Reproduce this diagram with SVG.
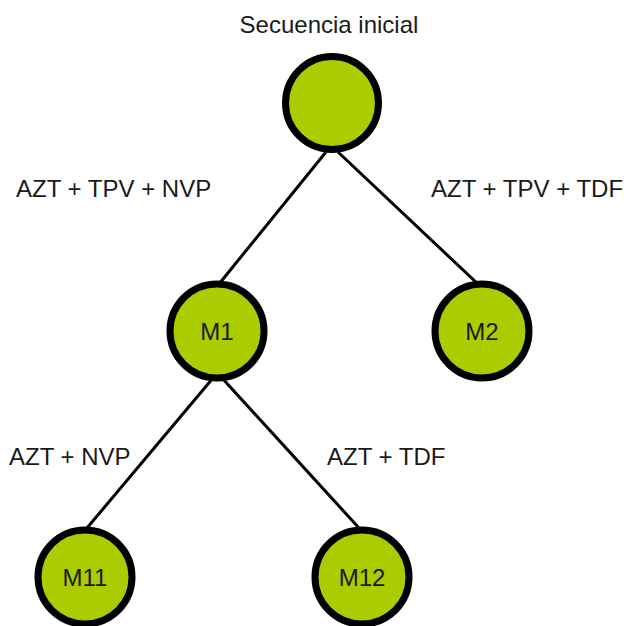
<svg xmlns="http://www.w3.org/2000/svg" width="624" height="626" viewBox="0 0 624 626">
<style>
.n{fill:#aacc00;stroke:#000;stroke-width:7}
.t{font-family:"Liberation Sans",Arial,sans-serif;font-size:24px;fill:#1a1a1a}
.c{text-anchor:middle}
.e{stroke:#000;stroke-width:3;fill:none}
</style>
<rect width="624" height="626" fill="#fff"/>
<g id="connectors">
<line class="e" x1="326" y1="152" x2="219" y2="284"/>
<line class="e" x1="338" y1="152" x2="479" y2="285"/>
<line class="e" x1="213" y1="378" x2="87" y2="528"/>
<line class="e" x1="222" y1="378" x2="359" y2="528"/>
</g>
<g id="labels">
<text class="t c" x="329" y="33">Secuencia inicial</text>
<text class="t" x="16" y="197">AZT + TPV + NVP</text>
<text class="t" x="431" y="197">AZT + TPV + TDF</text>
<text class="t" x="9" y="465">AZT + NVP</text>
<text class="t" x="327" y="465">AZT + TDF</text>
</g>
<g id="root"><circle class="n" cx="332" cy="103" r="46.5"/></g>
<g id="M1"><circle class="n" cx="217" cy="331" r="47"/><text class="t c" x="217" y="340">M1</text></g>
<g id="M2"><circle class="n" cx="482" cy="331" r="47"/><text class="t c" x="482" y="340">M2</text></g>
<g id="M11"><circle class="n" cx="85" cy="577" r="47"/><text class="t c" x="85" y="586">M11</text></g>
<g id="M12"><circle class="n" cx="362" cy="577" r="47"/><text class="t c" x="362" y="586">M12</text></g>
</svg>
